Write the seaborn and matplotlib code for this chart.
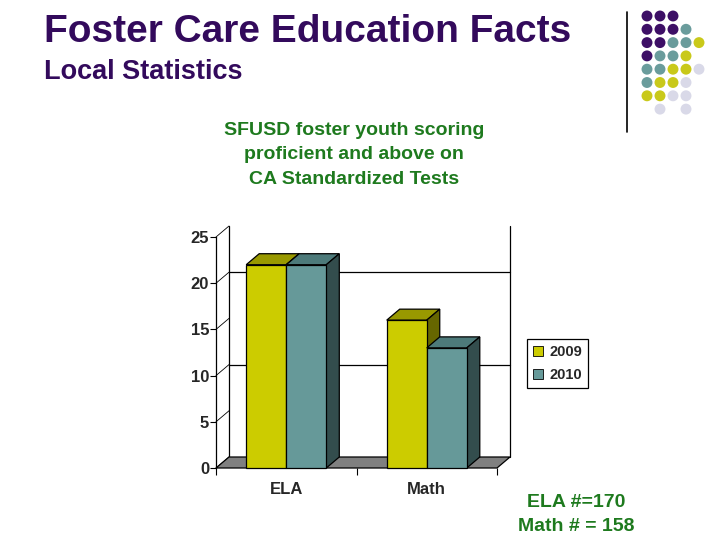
import matplotlib
matplotlib.use("Agg")
import matplotlib.pyplot as plt
from matplotlib.patches import Polygon
import seaborn as sns
import pandas as pd
import numpy as np

# ---- data ----
categories = ["ELA", "Math"]
years = ["2009", "2010"]
values_2009 = [22, 16]
values_2010 = [22, 13]
y_ticks = [0, 5, 10, 15, 20, 25]
grid_values = [10, 20]

title = "Foster Care Education Facts"
subtitle = "Local Statistics"
chart_title = "SFUSD foster youth scoring\nproficient and above on\nCA Standardized Tests"
note = "ELA #=170\nMath # = 158"

# decorative dot pattern (P purple, T teal, Y yellow, L lavender, . none)
dot_rows = ["PPP..", "PPPT.", "PPTTY", "PTTY.", "TTYYL", "TYYL.", "YYLL.", ".L.L."]

sns.set_theme(style="white")
plt.rcParams["font.family"] = ["Liberation Sans", "DejaVu Sans"]

df = pd.DataFrame({
    "category": categories * 2,
    "year": [years[0]] * 2 + [years[1]] * 2,
    "value": values_2009 + values_2010,
})

front = {"2009": "#CCCC00", "2010": "#669999"}
top_c = {"2009": "#999900", "2010": "#4D7A7A"}
side_c = {"2009": "#666600", "2010": "#334D4D"}

W, H = 720, 540
fig = plt.figure(figsize=(7.2, 5.4), dpi=100)

# main axes = front plane
x0, x1, y0, y1 = 216, 497, 468, 237
ax = fig.add_axes([x0 / W, 1 - y0 / H, (x1 - x0) / W, (y0 - y1) / H])
sns.barplot(data=df, x="category", y="value", hue="year", palette=front,
            width=0.57, gap=0, edgecolor="black", linewidth=0.9,
            legend=True, ax=ax, saturation=1)
ax.set_xlim(-0.5, 1.5)
ax.set_ylim(0, 25)

# depth offsets in data units
dpx, dpy = 13, 11
dx = dpx / ((x1 - x0) / 2.0)
dy = dpy / ((y0 - y1) / 25.0)

# back wall / gridlines / floor
for v in grid_values:
    ax.plot([-0.5 + dx, 1.5 + dx], [v + dy, v + dy], color="black", lw=0.9,
            clip_on=False, zorder=1)
ax.plot([-0.5 + dx, -0.5 + dx], [dy, 25 + dy], color="black", lw=0.9, clip_on=False, zorder=1)
ax.plot([1.5 + dx, 1.5 + dx], [dy, 25 + dy], color="black", lw=0.9, clip_on=False, zorder=1)
for v in y_ticks:
    ax.plot([-0.5, -0.5 + dx], [v, v + dy], color="black", lw=0.6, clip_on=False, zorder=1)
floor = Polygon([[-0.5, 0], [1.5, 0], [1.5 + dx, dy], [-0.5 + dx, dy]], closed=True,
                facecolor="#808080", edgecolor="black", lw=0.9, clip_on=False, zorder=1.5)
ax.add_patch(floor)

# 3D faces for bars
bars = [p for p in ax.patches if p is not floor and p.get_height() > 0]
bars.sort(key=lambda p: p.get_x())
for i, p in enumerate(bars):
    bx, bw, bh = p.get_x(), p.get_width(), p.get_height()
    fc = p.get_facecolor()
    key = "2009" if np.allclose(fc[:3], matplotlib.colors.to_rgb(front["2009"])) else "2010"
    top = Polygon([[bx, bh], [bx + bw, bh], [bx + bw + dx, bh + dy], [bx + dx, bh + dy]],
                  closed=True, facecolor=top_c[key], edgecolor="black", lw=0.9,
                  clip_on=False, zorder=3 + 2 * i)
    side = Polygon([[bx + bw, 0], [bx + bw + dx, dy], [bx + bw + dx, bh + dy], [bx + bw, bh]],
                   closed=True, facecolor=side_c[key], edgecolor="black", lw=0.9,
                   clip_on=False, zorder=3 + 2 * i)
    ax.add_patch(top)
    ax.add_patch(side)
    p.set_zorder(4 + 2 * i)
    p.set_clip_on(False)

for s in ["top", "right", "bottom"]:
    ax.spines[s].set_visible(False)
ax.spines["left"].set_color("black")
ax.spines["left"].set_linewidth(0.9)
ax.spines["left"].set_zorder(2)

ax.set_yticks(y_ticks)
ax.set_yticklabels([str(v) for v in y_ticks], fontsize=12, fontweight="bold")
ax.tick_params(axis="y", left=True, length=4, width=0.8, color="black", pad=1)
ax.set_xticks([0, 1])
ax.set_xticklabels(categories, fontsize=12, fontweight="bold")
ax.tick_params(axis="x", length=0, pad=10)
ax.set_xticks([-0.5, 0.5, 1.5], minor=True)
ax.tick_params(axis="x", which="minor", bottom=True, length=5, width=0.8, color="black")
ax.set_xlabel("")
ax.set_ylabel("")
ax.grid(False)
ax.patch.set_alpha(0)

# legend
handles, labels = ax.get_legend_handles_labels()
ax.legend_.remove()
leg = fig.legend(handles, labels, loc="center", bbox_to_anchor=(557.5 / W, 1 - 363.5 / H),
                 frameon=True, fancybox=False, edgecolor="black", framealpha=1,
                 prop={"size": 10.5, "weight": "bold"}, handlelength=0.7, handleheight=0.7,
                 handletextpad=0.4, borderpad=0.4, labelspacing=0.6)
leg.get_frame().set_linewidth(0.9)
for h in leg.legend_handles:
    h.set_edgecolor("black")
    h.set_linewidth(0.6)

# texts
purple = "#330A5C"
green = "#1E7A1E"
fig.text(44 / W, 1 - 32 / H, title, fontsize=28, fontweight="bold", color=purple,
         va="center", ha="left")
fig.text(44 / W, 1 - 72 / H, subtitle, fontsize=19.5, fontweight="bold", color=purple,
         va="center", ha="left")
fig.text(354 / W, 1 - 155 / H, chart_title, fontsize=14, fontweight="bold", color=green,
         va="center", ha="center", linespacing=1.55, multialignment="center")
fig.text(576 / W, 1 - 514.5 / H, note, fontsize=14, fontweight="bold", color=green,
         va="center", ha="center", linespacing=1.6, multialignment="center")

# decoration overlay
deco = fig.add_axes([0, 0, 1, 1], zorder=-1)
deco.set_xlim(0, W)
deco.set_ylim(H, 0)
deco.axis("off")
deco.plot([627, 627], [12, 132], color="black", lw=1.2)
cmap = {"P": "#3D0F66", "T": "#6A9C9C", "Y": "#C9C91A", "L": "#D9D9E8"}
xs, ys, cs = [], [], []
for r, row in enumerate(dot_rows):
    for c, ch in enumerate(row):
        if ch in cmap:
            xs.append(647 + 13 * c)
            ys.append(16 + 13.3 * r)
            cs.append(cmap[ch])
deco.scatter(xs, ys, s=62, c=cs, linewidths=0)

fig.savefig("out.png", dpi=100)
